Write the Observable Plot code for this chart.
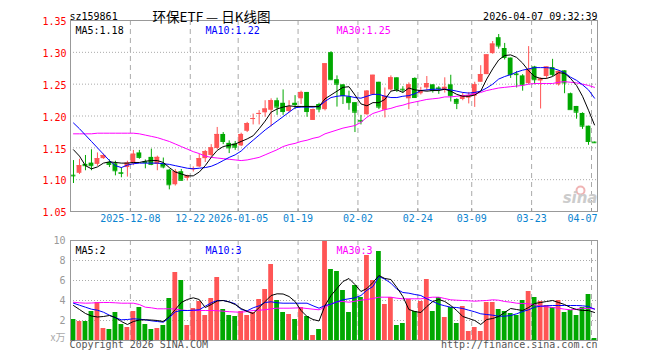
<!DOCTYPE html>
<html><head><meta charset="utf-8">
<script src="https://cdn.jsdelivr.net/npm/d3@7"></script>
<script src="https://cdn.jsdelivr.net/npm/@observablehq/plot@0.6"></script>
<style>
body{margin:0;background:#fff;width:660px;height:360px;overflow:hidden}
#chart svg{display:block}
</style></head><body><div id="chart"></div>
<script>
const dates = [
"2025-11-24","2025-11-25","2025-11-26","2025-11-27","2025-11-28","2025-12-01","2025-12-02","2025-12-03","2025-12-04","2025-12-05",
"2025-12-08","2025-12-09","2025-12-10","2025-12-11","2025-12-12","2025-12-15","2025-12-16","2025-12-17","2025-12-18","2025-12-19",
"2025-12-22","2025-12-23","2025-12-24","2025-12-25","2025-12-26","2025-12-29","2025-12-30","2025-12-31","2026-01-05","2026-01-06",
"2026-01-07","2026-01-08","2026-01-09","2026-01-12","2026-01-13","2026-01-14","2026-01-15","2026-01-16","2026-01-19","2026-01-20",
"2026-01-21","2026-01-22","2026-01-23","2026-01-26","2026-01-27","2026-01-28","2026-01-29","2026-01-30","2026-02-02","2026-02-03",
"2026-02-04","2026-02-05","2026-02-06","2026-02-09","2026-02-10","2026-02-11","2026-02-12","2026-02-13","2026-02-24","2026-02-25",
"2026-02-26","2026-02-27","2026-03-02","2026-03-03","2026-03-04","2026-03-05","2026-03-06","2026-03-09","2026-03-10","2026-03-11",
"2026-03-12","2026-03-13","2026-03-16","2026-03-17","2026-03-18","2026-03-19","2026-03-20","2026-03-23","2026-03-24","2026-03-25",
"2026-03-26","2026-03-27","2026-03-30","2026-03-31","2026-04-01","2026-04-02","2026-04-03","2026-04-07"];

const opens = [1.107,1.110,1.124,1.126,1.124,1.133,1.127,1.125,1.111,1.119,
1.125,1.142,1.128,1.135,1.124,1.125,1.115,1.092,1.1125,1.102,
1.116,1.120,1.133,1.138,1.149,1.171,1.157,1.156,1.153,1.176,
1.195,1.203,1.205,1.209,1.224,1.220,1.207,1.220,1.227,1.237,
1.193,1.218,1.210,1.2995,1.257,1.249,1.230,1.221,1.193,1.202,
1.233,1.253,1.209,1.241,1.260,1.242,1.227,1.259,1.235,1.244,
1.249,1.244,1.240,1.249,1.226,1.226,1.228,1.231,1.253,1.265,
1.298,1.323,1.306,1.291,1.266,1.263,1.251,1.277,1.255,1.262,
1.276,1.249,1.271,1.235,1.215,1.204,1.184,1.159];
const highs = [1.130,1.132,1.138,1.147,1.142,1.140,1.131,1.129,1.119,1.129,
1.146,1.146,1.131,1.148,1.137,1.134,1.116,1.116,1.116,1.107,
1.120,1.140,1.146,1.155,1.182,1.174,1.161,1.160,1.173,1.190,
1.203,1.2085,1.224,1.227,1.228,1.241,1.224,1.232,1.239,1.237,
1.211,1.220,1.282,1.301,1.263,1.249,1.239,1.221,1.201,1.240,
1.264,1.253,1.244,1.263,1.260,1.246,1.252,1.260,1.245,1.262,
1.249,1.246,1.260,1.264,1.227,1.236,1.237,1.253,1.279,1.296,
1.317,1.328,1.314,1.291,1.270,1.265,1.309,1.278,1.260,1.277,
1.289,1.271,1.271,1.236,1.215,1.205,1.184,1.159];
const lows = [1.094,1.108,1.114,1.114,1.121,1.132,1.119,1.106,1.103,1.104,
1.122,1.132,1.117,1.122,1.114,1.117,1.084,1.090,1.098,1.098,
1.112,1.119,1.127,1.136,1.147,1.155,1.141,1.146,1.152,1.174,
1.186,1.186,1.198,1.183,1.201,1.201,1.205,1.210,1.218,1.198,
1.193,1.205,1.208,1.256,1.214,1.218,1.209,1.174,1.186,1.201,
1.232,1.210,1.197,1.239,1.237,1.236,1.210,1.228,1.233,1.239,
1.236,1.234,1.236,1.222,1.210,1.224,1.219,1.2135,1.253,1.265,
1.297,1.305,1.288,1.259,1.244,1.239,1.249,1.249,1.211,1.258,
1.262,1.247,1.235,1.210,1.195,1.179,1.154,1.157];
const closes = [1.106,1.122,1.122,1.122,1.133,1.138,1.124,1.114,1.110,1.126,
1.140,1.135,1.127,1.124,1.135,1.120,1.092,1.1125,1.099,1.106,
1.117,1.133,1.144,1.150,1.171,1.160,1.150,1.151,1.171,1.188,
1.196,1.204,1.211,1.224,1.214,1.207,1.214,1.218,1.237,1.207,
1.210,1.211,1.282,1.257,1.250,1.232,1.221,1.206,1.192,1.239,
1.264,1.214,1.231,1.260,1.241,1.241,1.249,1.229,1.240,1.251,
1.240,1.243,1.245,1.232,1.220,1.232,1.232,1.249,1.265,1.296,
1.313,1.310,1.292,1.265,1.265,1.249,1.273,1.257,1.258,1.277,
1.265,1.270,1.252,1.210,1.206,1.184,1.160,1.158];
const volumes = [2.1,1.9,1.9,2.9,3.8,1.2,1.1,2.8,1.6,1.3,
2.9,3.3,1.6,1.1,1.2,1.5,4.2,6.8,6.0,1.5,
3.2,3.9,2.5,4.2,6.3,3.1,2.5,2.4,2.9,2.5,
2.8,4.1,5.1,7.6,4.0,2.8,2.6,2.1,3.3,2.4,
0.5,1.1,9.9,7.1,6.9,5.0,2.8,5.5,4.3,8.5,
6.0,8.9,3.6,4.3,1.5,1.7,4.1,2.9,3.9,6.1,
2.9,4.3,2.3,3.3,1.7,3.4,0.9,1.3,0.9,3.8,
3.8,3.1,2.9,2.7,2.5,4.0,4.9,4.3,3.9,3.5,
3.3,4.0,2.8,3.0,2.5,3.3,4.6,0.2];
const ma5 = [1.147,1.137,1.122,1.117,1.120,1.126,1.128,1.127,1.126,1.126,
1.127,1.127,1.129,1.130,1.130,1.127,1.119,1.112,1.109,1.106,
1.106,1.112,1.122,1.135,1.146,1.152,1.154,1.156,1.160,1.164,
1.169,1.180,1.192,1.206,1.211,1.214,1.216,1.215,1.215,1.215,
1.215,1.215,1.227,1.233,1.239,1.245,1.246,1.233,1.219,1.216,
1.221,1.221,1.226,1.239,1.241,1.237,1.244,1.241,1.240,1.239,
1.240,1.240,1.242,1.239,1.234,1.231,1.231,1.233,1.239,1.258,
1.274,1.288,1.295,1.296,1.292,1.283,1.271,1.262,1.259,1.259,
1.262,1.268,1.267,1.259,1.248,1.231,1.209,1.186];
const ma10 = [1.189,1.180,1.170,1.160,1.150,1.140,1.130,1.122,1.119,1.123,
1.125,1.126,1.126,1.126,1.126,1.125,1.124,1.122,1.120,1.118,
1.117,1.118,1.119,1.121,1.125,1.130,1.135,1.139,1.145,1.154,
1.162,1.170,1.178,1.185,1.192,1.199,1.206,1.213,1.214,1.214,
1.214,1.215,1.223,1.229,1.231,1.232,1.231,1.229,1.228,1.231,
1.234,1.234,1.231,1.229,1.229,1.231,1.232,1.235,1.240,1.241,
1.242,1.242,1.242,1.241,1.239,1.237,1.236,1.237,1.239,1.244,
1.250,1.258,1.262,1.265,1.269,1.272,1.274,1.276,1.276,1.276,
1.275,1.272,1.268,1.261,1.256,1.249,1.241,1.228];
const ma30 = [1.172,1.172,1.172,1.172,1.173,1.173,1.173,1.173,1.173,1.173,
1.173,1.172,1.170,1.168,1.166,1.163,1.160,1.156,1.152,1.148,
1.144,1.141,1.137,1.135,1.134,1.133,1.132,1.131,1.130,1.131,
1.133,1.135,1.139,1.143,1.147,1.152,1.155,1.157,1.160,1.162,
1.165,1.167,1.172,1.175,1.178,1.181,1.183,1.185,1.190,1.198,
1.204,1.207,1.210,1.212,1.215,1.217,1.220,1.222,1.224,1.226,
1.227,1.228,1.230,1.230,1.231,1.232,1.233,1.235,1.237,1.240,
1.242,1.244,1.245,1.246,1.247,1.248,1.250,1.251,1.251,1.251,
1.251,1.253,1.254,1.253,1.252,1.250,1.248,1.245];
const vma5 = [3.5,3.1,2.7,2.45,2.35,2.4,2.5,2.3,1.9,1.6,
1.9,2.05,2.07,2.05,2.0,1.9,2.4,3.1,3.8,4.1,
4.27,4.1,3.3,3.6,3.95,4.0,3.85,3.6,3.2,2.9,
2.7,3.3,3.9,4.5,4.67,4.65,4.4,3.9,3.0,2.4,
2.1,1.95,3.5,4.5,5.2,5.9,6.2,5.6,4.9,5.2,
5.8,6.5,6.2,6.1,5.3,4.4,3.1,2.9,2.8,3.4,
3.9,4.1,3.9,3.5,3.0,2.4,2.2,2.0,1.6,2.1,
2.2,2.4,2.8,3.2,3.1,3.0,3.3,3.7,3.8,3.9,
4.0,3.8,3.6,3.3,3.1,3.0,3.0,2.8];
const vma10 = [3.73,3.53,3.33,3.13,3.03,2.83,2.53,2.27,2.07,2.1,
2.17,2.13,2.07,1.97,1.9,1.83,2.27,2.87,3.0,3.0,
3.03,3.07,3.43,3.77,4.0,4.0,3.87,3.67,3.1,2.97,
3.27,3.47,3.8,3.87,3.77,3.73,3.73,3.73,3.73,3.73,
3.47,3.23,3.5,3.63,3.87,4.07,4.17,4.27,4.5,5.03,
5.4,6.4,6.13,5.73,5.13,4.8,4.73,4.6,4.5,4.17,
3.9,3.63,3.47,3.33,3.3,3.2,3.03,2.87,2.67,2.6,
2.53,2.43,2.43,2.5,2.67,2.9,3.07,3.33,3.43,3.47,
3.5,3.5,3.5,3.5,3.5,3.47,3.4,3.13];
const vma30 = [3.83,3.77,3.73,3.75,3.78,3.8,3.8,3.77,3.73,3.73,
3.73,3.6,3.33,3.27,3.17,3.17,3.17,3.15,3.05,3.0,
3.0,3.0,3.0,3.0,2.98,2.93,2.88,2.85,2.83,2.9,
3.0,3.03,3.07,3.17,3.23,3.23,3.23,3.25,3.27,3.2,
3.13,3.07,3.33,3.65,3.87,3.9,3.83,3.93,4.03,4.1,
4.2,4.33,4.33,4.33,4.23,4.17,4.17,4.17,4.17,4.27,
4.33,4.33,4.2,4.07,4.03,4.0,3.97,3.93,3.97,4.0,
4.07,4.03,3.9,3.83,3.73,3.7,3.67,3.57,3.43,3.37,
3.3,3.23,3.13,3.07,3.13,3.23,3.2,3.17];

const tickDates = ["2025-12-08","2025-12-22","2026-01-05","2026-01-19","2026-02-02","2026-02-24","2026-03-09","2026-03-23","2026-04-07"];
const tickLabels = ["2025-12-08","12-22","2026-01-05","01-19","02-02","02-24","03-09","03-23","04-07"];
const priceTicks = [1.05,1.10,1.15,1.20,1.25,1.30,1.35];
const volTicks = [2,4,6,8,10];
const priceHeader = ["MA5:1.18","MA10:1.22","MA30:1.25"];
const volHeader = ["MA5:2","MA10:3","MA30:3"];
const code = "sz159861";
const title = "环保ETF — 日K线图";
const stamp = "2026-04-07 09:32:39";

const RED = "#ff5555", GREEN = "#00a800", XBLUE = "#0a84d0";
const MONO = "DejaVu Sans Mono";
const MA_COLORS = ["#000000", "#0000ff", "#ff00ff"];

const candles = dates.map((d, i) => ({
  date: d, open: opens[i], high: highs[i], low: lows[i], close: closes[i], vol: volumes[i],
  ma5: ma5[i], ma10: ma10[i], ma30: ma30[i], vma5: vma5[i], vma10: vma10[i], vma30: vma30[i],
  color: closes[i] >= opens[i] ? RED : GREEN
}));

const W = 660, ML = 70, MR = 63;
const xOpts = {type: "band", domain: dates, paddingInner: 0.2, paddingOuter: 0.1, round: false, axis: null};
const ticks = tickDates.map((d, i) => ({date: d, label: tickLabels[i]}));
const lastTick = ticks[ticks.length - 1];
const HEADER_DX = [5, 135, 266];
const headerMarks = (labels, dy) => labels.map((t, i) =>
  Plot.text([t], {frameAnchor: "top-left", dx: HEADER_DX[i], dy, textAnchor: "start", text: d => d, fill: MA_COLORS[i], fontSize: 10}));

const main = Plot.plot({
  width: W, height: 230, marginLeft: ML, marginRight: MR, marginTop: 20, marginBottom: 19,
  style: {fontFamily: MONO, fontSize: "10px", background: "#fff", overflow: "visible"},
  x: xOpts,
  y: {domain: [1.05, 1.35], axis: null},
  marks: [
    Plot.ruleY(priceTicks.slice(1, -1), {stroke: "#aaa", strokeDasharray: "1,2"}),
    Plot.ruleX(tickDates, {x: d => d, dx: -3, stroke: "#aaa", strokeDasharray: "5,4"}),
    Plot.ruleX(tickDates, {x: d => d, dx: -3, insetTop: 188, stroke: "#999"}),
    Plot.dot(["eye"], {frameAnchor: "bottom-right", dx: -17, dy: -21, r: 4, stroke: "#f0b4b4", strokeWidth: 2, fill: "none"}),
    Plot.text(["sina"], {frameAnchor: "bottom-right", dx: 0, dy: -9, text: d => d, fill: "#cccccc", fontSize: 15, fontWeight: "bold", fontStyle: "italic", fontFamily: "DejaVu Sans", textAnchor: "end"}),
    Plot.ruleX(candles, {x: "date", y1: "low", y2: "high", stroke: "color"}),
    Plot.barY(candles, {x: "date", y1: "open", y2: "close", fill: "color"}),
    Plot.tickY(candles, {x: "date", y: "close", stroke: "color"}),
    Plot.lineY(candles, {x: "date", y: "ma30", stroke: MA_COLORS[2], strokeWidth: 1}),
    Plot.lineY(candles, {x: "date", y: "ma10", stroke: MA_COLORS[1], strokeWidth: 1}),
    Plot.lineY(candles, {x: "date", y: "ma5", stroke: MA_COLORS[0], strokeWidth: 1}),
    Plot.frame({stroke: "#999"}),
    Plot.text(priceTicks, {y: d => d, frameAnchor: "left", dx: -4, dy: 1.5, textAnchor: "end", text: d => d.toFixed(2), fill: "#ff0000", fontSize: 10}),
    Plot.text(ticks.slice(0, -1), {x: "date", frameAnchor: "bottom", dx: -3, dy: 10, text: "label", fill: XBLUE, fontSize: 10}),
    Plot.text([lastTick], {frameAnchor: "bottom-right", dx: 0, dy: 10, textAnchor: "end", text: "label", fill: XBLUE, fontSize: 10}),
    Plot.text([code], {frameAnchor: "top-left", dx: -1, dy: -7.5, textAnchor: "start", text: d => d, fill: "#000", fontSize: 10}),
    Plot.text([title], {frameAnchor: "top-left", dx: 141, dy: -8, textAnchor: "middle", text: d => d, fill: "#000", fontSize: 13.5, fontFamily: "Noto Sans CJK SC"}),
    Plot.text([stamp], {frameAnchor: "top-right", dx: 0, dy: -7.5, textAnchor: "end", text: d => d, fill: "#000", fontSize: 10}),
    ...headerMarks(priceHeader, 6.5)
  ]
});

const vol = Plot.plot({
  width: W, height: 130, marginLeft: ML, marginRight: MR, marginTop: 10, marginBottom: 20,
  style: {fontFamily: MONO, fontSize: "10px", background: "#fff", overflow: "visible"},
  x: xOpts,
  y: {domain: [0, 10], axis: null},
  marks: [
    Plot.ruleY(volTicks.slice(0, -1), {stroke: "#aaa", strokeDasharray: "1,2"}),
    Plot.ruleX(tickDates, {x: d => d, dx: -3, stroke: "#aaa", strokeDasharray: "5,4"}),
    Plot.barY(candles, {x: "date", y: "vol", fill: "color"}),
    Plot.lineY(candles, {x: "date", y: "vma30", stroke: MA_COLORS[2], strokeWidth: 1}),
    Plot.lineY(candles, {x: "date", y: "vma10", stroke: MA_COLORS[1], strokeWidth: 1}),
    Plot.lineY(candles, {x: "date", y: "vma5", stroke: MA_COLORS[0], strokeWidth: 1}),
    Plot.frame({stroke: "#999"}),
    Plot.text(volTicks, {y: d => d, frameAnchor: "left", dx: -5, textAnchor: "end", text: d => String(d), fill: "#999", fontSize: 10}),
    Plot.text(["x万"], {frameAnchor: "bottom-left", dx: -5, dy: 0, textAnchor: "end", text: d => d, fill: "#aaa", fontSize: 10, fontFamily: "Noto Sans CJK SC"}),
    Plot.text(["Copyright 2026 SINA.COM"], {frameAnchor: "bottom-left", dx: -1, dy: 7, textAnchor: "start", text: d => d, fill: "#555", fontSize: 10}),
    Plot.text(["http://finance.sina.com.cn"], {frameAnchor: "bottom-right", dx: 0, dy: 7, textAnchor: "end", text: d => d, fill: "#555", fontSize: 10}),
    ...headerMarks(volHeader, 6.5)
  ]
});

document.getElementById("chart").append(main, vol);
</script></body></html>
